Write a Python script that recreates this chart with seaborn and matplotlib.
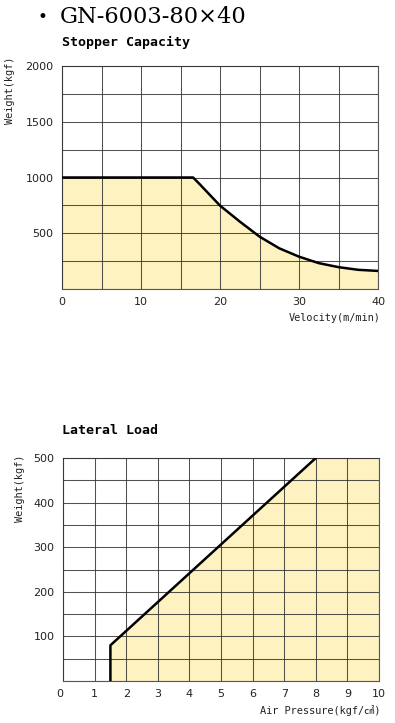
import matplotlib
matplotlib.use("Agg")
import matplotlib.pyplot as plt
import seaborn as sns
import pandas as pd

# ---- data ----
velocity = [0, 16.6, 17.5, 18.7, 20, 22.5, 25, 27.5, 30, 32.5, 35, 37.5, 40]
stop_weight = [1000, 1000, 935, 845, 748, 605, 470, 365, 290, 232, 196, 172, 162]
vel_ticks = [0, 10, 20, 30, 40]
stop_yticks = [500, 1000, 1500, 2000]

pressure = [1.5, 1.5, 8.0]
lat_weight = [0, 80, 500]
pres_ticks = [0, 1, 2, 3, 4, 5, 6, 7, 8, 9, 10]
lat_yticks = [100, 200, 300, 400, 500]

sns.set_theme(style="white")
plt.rcParams['font.family'] = ['DejaVu Sans', 'Noto Sans CJK JP']

fig = plt.figure(figsize=(3.95, 7.23), dpi=100)

FILL = '#fdf2c0'
GRID = '#333333'
mono = ['DejaVu Sans Mono', 'Noto Sans CJK JP']

def style_axes(ax):
    ax.set_facecolor('white')
    for s in ax.spines.values():
        s.set_color('#555555')
        s.set_linewidth(0.8)
    ax.tick_params(axis='both', length=0, labelsize=8, colors='#222222', pad=6)
    ax.grid(True, color=GRID, linewidth=0.75, alpha=0.85)
    ax.set_axisbelow(False)

# ---- top chart ----
ax1 = fig.add_axes([62/395, 1-289/723, 316/395, 223/723])
df1 = pd.DataFrame({'v': velocity, 'w': stop_weight})
ax1.fill_between(df1['v'], 0, df1['w'], color=FILL, zorder=0.5, linewidth=0)
sns.lineplot(data=df1, x='v', y='w', ax=ax1, color='black', linewidth=1.8, zorder=3)
ax1.set_xlim(0, 40)
ax1.set_ylim(0, 2000)
ax1.set_xticks(range(0, 41, 5))
ax1.set_xticklabels([str(t) if t in vel_ticks else '' for t in range(0, 41, 5)])
ax1.set_yticks(range(0, 2001, 250))
ax1.set_yticklabels([str(t) if t in stop_yticks else '' for t in range(0, 2001, 250)])
ax1.set_xlabel('')
ax1.set_ylabel('')
style_axes(ax1)

# ---- bottom chart ----
ax2 = fig.add_axes([63/395, 1-681/723, 316/395, 223/723])
df2 = pd.DataFrame({'p': pressure, 'w': lat_weight})
ax2.fill_between(pressure + [10], 0, lat_weight + [500], color=FILL, zorder=0.5, linewidth=0)
sns.lineplot(data=df2, x='p', y='w', ax=ax2, color='black', linewidth=1.8, zorder=3,
             sort=False, estimator=None)
ax2.set_xlim(0, 10)
ax2.set_ylim(0, 500)
ax2.set_xticks(pres_ticks)
ax2.set_xticklabels([str(t) for t in pres_ticks])
ax2.set_yticks(range(0, 501, 50))
ax2.set_yticklabels([str(t) if t in lat_yticks else '' for t in range(0, 501, 50)])
ax2.set_xlabel('')
ax2.set_ylabel('')
style_axes(ax2)
ax2.get_xticklabels()[0].set_horizontalalignment('right')

# ---- texts ----
fig.text(42/395, 1-17/723, '•', fontsize=12, ha='center', va='center', color='black')
fig.text(60/395, 1-17/723, 'GN-6003-80×40', fontsize=16.2, family='DejaVu Serif',
         ha='left', va='center', color='black')
fig.text(62/395, 1-42/723, 'Stopper Capacity', fontsize=9.5, family=mono,
         weight='bold', ha='left', va='center', color='black')
fig.text(62/395, 1-430/723, 'Lateral Load', fontsize=9.5, family=mono,
         weight='bold', ha='left', va='center', color='black')

fig.text(10/395, 1-57/723, 'Weight(kgf)', fontsize=7.4, family=mono, rotation=90,
         ha='center', va='top', color='#222222')
fig.text(20/395, 1-455/723, 'Weight(kgf)', fontsize=7.4, family=mono, rotation=90,
         ha='center', va='top', color='#222222')
fig.text(381/395, 1-318/723, 'Velocity(m/min)', fontsize=7.4, family=mono,
         ha='right', va='center', color='#222222')
fig.text(381/395, 1-711/723, 'Air Pressure(kgf/㎠)', fontsize=7.4, family=mono,
         ha='right', va='center', color='#222222')

fig.savefig('out.png', dpi=100, facecolor='white')
